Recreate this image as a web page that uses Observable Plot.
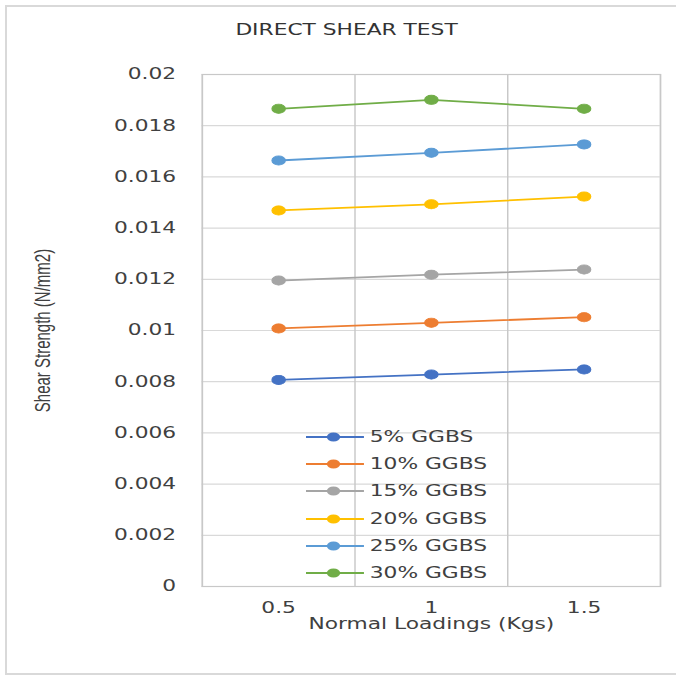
<!DOCTYPE html>
<html><head><meta charset="utf-8">
<script src="https://cdn.jsdelivr.net/npm/d3@7"></script>
<script src="https://cdn.jsdelivr.net/npm/@observablehq/plot@0.6"></script>
<style>
body{margin:0;background:#fff;overflow:hidden;width:676px;height:678px;position:relative}
#border{position:absolute;left:5px;top:5px;width:700px;height:670px;border:2px solid #d9d9d9;border-right:none;box-sizing:border-box}
#wrap{position:absolute;left:0;top:0;width:466px;height:678px;transform:scaleX(1.45);transform-origin:0 0}
#title{position:absolute;left:0;width:478px;top:21px;text-align:center;font:15px "DejaVu Sans";color:#333;white-space:nowrap}
#chart{position:absolute;left:0;top:50px}
#chart svg{overflow:visible}
#legend{position:absolute;left:211px;top:0}
.row{position:absolute;left:0;height:20px;display:flex;align-items:center;white-space:nowrap;font:15px "DejaVu Sans";color:#404040}
.row svg{display:block;margin-right:4px}
g[aria-label="y-axis label"] text{font-family:"Liberation Sans";font-size:15px}
</style>
</head><body>
<div id="border"></div>
<div id="wrap">
  <div id="title">DIRECT SHEAR TEST</div>
  <div id="chart"></div>
  <div id="legend"></div>
</div>
<script>
const loadings = [0.5, 1, 1.5];
const loadingLabels = ["0.5", "1", "1.5"];
const seriesNames = ["5% GGBS", "10% GGBS", "15% GGBS", "20% GGBS", "25% GGBS", "30% GGBS"];
const seriesColors = ["#4472C4", "#ED7D31", "#A5A5A5", "#FFC000", "#5B9BD5", "#70AD47"];
const ggbs5  = [0.00807, 0.00828, 0.00848];
const ggbs10 = [0.01008, 0.01030, 0.01052];
const ggbs15 = [0.01195, 0.01218, 0.01238];
const ggbs20 = [0.01469, 0.01493, 0.01523];
const ggbs25 = [0.01664, 0.01694, 0.01727];
const ggbs30 = [0.01866, 0.01901, 0.01866];
const yTickLabels = ["0","0.002","0.004","0.006","0.008","0.01","0.012","0.014","0.016","0.018","0.02"];

const allValues = [ggbs5, ggbs10, ggbs15, ggbs20, ggbs25, ggbs30];
const data = [];
allValues.forEach((vals, i) => vals.forEach((v, j) => data.push({series: seriesNames[i], x: loadings[j], y: v})));
const yTicks = yTickLabels.map(Number);
const step = loadings[1] - loadings[0];
const xDomain = [loadings[0] - step / 2, loadings[loadings.length - 1] + step / 2];
const xBoundaries = d3.pairs(loadings).map(([a, b]) => (a + b) / 2);

const chart = Plot.plot({
  width: 466,
  height: 590,
  marginTop: 24,
  marginBottom: 54,
  marginLeft: 139,
  marginRight: 11,
  style: {fontFamily: "DejaVu Sans", fontSize: "15px", color: "#404040", background: "transparent"},
  x: {domain: xDomain},
  y: {domain: [0, 0.02]},
  color: {domain: seriesNames, range: seriesColors},
  marks: [
    Plot.gridY(yTicks, {stroke: "#d9d9d9", strokeOpacity: 1, strokeWidth: 1.2}),
    Plot.gridX(xBoundaries, {stroke: "#c8c8c8", strokeOpacity: 1, strokeWidth: 1}),
    Plot.frame({stroke: "#c8c8c8", strokeWidth: 1.2}),
    Plot.axisY(yTicks, {tickSize: 0, tickPadding: 18, tickFormat: (d, i) => yTickLabels[i], label: "Shear Strength (N/mm2)", labelAnchor: "center", labelArrow: "none", labelOffset: 116}),
    Plot.axisX(loadings, {tickSize: 0, tickPadding: 16, tickFormat: (d, i) => loadingLabels[i], label: "Normal Loadings (Kgs)", labelAnchor: "center", labelArrow: "none", labelOffset: 42}),
    Plot.line(data, {x: "x", y: "y", z: "series", stroke: "series", strokeWidth: 1.8}),
    Plot.dot(data, {x: "x", y: "y", fill: "series", stroke: "series", r: 4.6, strokeWidth: 0.8})
  ]
});
document.getElementById("chart").appendChild(chart);

const legend = d3.select("#legend");
seriesNames.forEach((name, i) => {
  const row = legend.append("div").attr("class", "row").style("top", (427 + 27.2 * i) + "px");
  const s = row.append("svg").attr("width", 40).attr("height", 12);
  s.append("line").attr("x1", 0).attr("x2", 40).attr("y1", 6).attr("y2", 6).attr("stroke", seriesColors[i]).attr("stroke-width", 1.8);
  s.append("circle").attr("cx", 19).attr("cy", 6).attr("r", 4.6).attr("fill", seriesColors[i]);
  row.append("span").text(name);
});
</script>
</body></html>
